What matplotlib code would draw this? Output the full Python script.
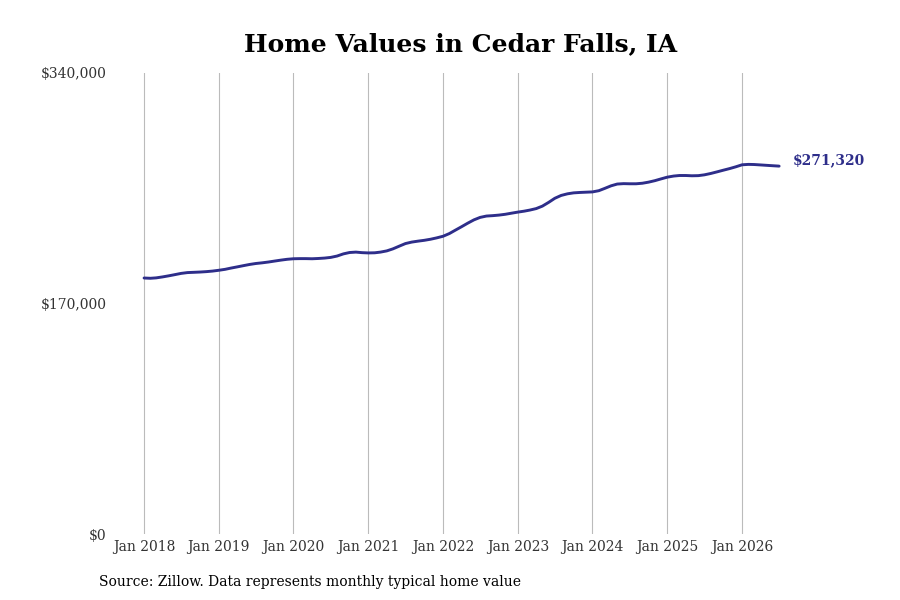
import pandas as pd
import matplotlib.pyplot as plt
import matplotlib.dates as mdates
from matplotlib.ticker import FuncFormatter

# monthly typical home value, Jan 2018 - Jul 2026
start_month = "2018-01-01"
values = [
    188800, 188600, 188900, 189600, 190400, 191300, 192200, 192800, 193000, 193200, 193500, 193900,
    194500, 195200, 196100, 197000, 197900, 198800, 199500, 200000, 200600, 201300, 202000, 202600,
    203000, 203100, 203100, 203000, 203200, 203500, 204000, 205000, 206600, 207600, 207900, 207500,
    207300, 207400, 207900, 208800, 210300, 212300, 214200, 215300, 216000, 216600, 217400, 218400,
    219600, 221600, 224000, 226600, 229200, 231700, 233500, 234500, 234800, 235200, 235800, 236600,
    237400, 238100, 238900, 240000, 241800, 244600, 247600, 249700, 250900, 251600, 251900, 252100,
    252300, 253200, 254900, 256800, 258100, 258400, 258300, 258300, 258700, 259500, 260600, 261900,
    263200, 264000, 264400, 264400, 264200, 264300, 264900, 265900, 267100, 268300, 269500, 270800,
    272300, 272600, 272500, 272200, 271900, 271600, 271320,
]
y_ticks = [0, 170000, 340000]
tick_years = list(range(2018, 2027))

title = "Home Values in Cedar Falls, IA"
source = "Source: Zillow. Data represents monthly typical home value"
line_color = "#2e2e8a"

dates = pd.date_range(start_month, periods=len(values), freq="MS")

plt.rcParams["font.family"] = "DejaVu Serif"

fig = plt.figure(figsize=(9, 6), dpi=100)
ax = fig.add_axes([115 / 900, 66 / 600, 755 / 900, 461 / 600])

ax.plot(dates, values, color=line_color, linewidth=2.1, solid_capstyle="round")
ax.annotate(f"${values[-1]:,}", xy=(dates[-1], values[-1]), xytext=(10, 4),
            textcoords="offset points", va="center", ha="left",
            fontsize=10, fontweight="bold", color=line_color)

ax.set_ylim(0, 340000)
ax.set_yticks(y_ticks)
ax.yaxis.set_major_formatter(FuncFormatter(lambda v, p: f"${v:,.0f}"))
ax.set_xlim(pd.Timestamp("2017-08-12"), pd.Timestamp("2027-09-18"))
ax.set_xticks([pd.Timestamp(f"{y}-01-01") for y in tick_years])
ax.xaxis.set_major_formatter(mdates.DateFormatter("%b %Y"))

ax.grid(True, axis="x", color="#bbbbbb", linewidth=0.8)
ax.grid(False, axis="y")
for s in ax.spines.values():
    s.set_visible(False)
ax.tick_params(axis="both", length=0, labelsize=10, labelcolor="#333333")
ax.tick_params(axis="x", pad=4)
ax.tick_params(axis="y", pad=6)

fig.text(0.512, 0.927, title, ha="center", va="center",
         fontsize=18, fontweight="bold", color="black")
fig.text(0.11, 0.03, source, ha="left", va="center", fontsize=10, color="black")

plt.savefig("out.png", dpi=100)
